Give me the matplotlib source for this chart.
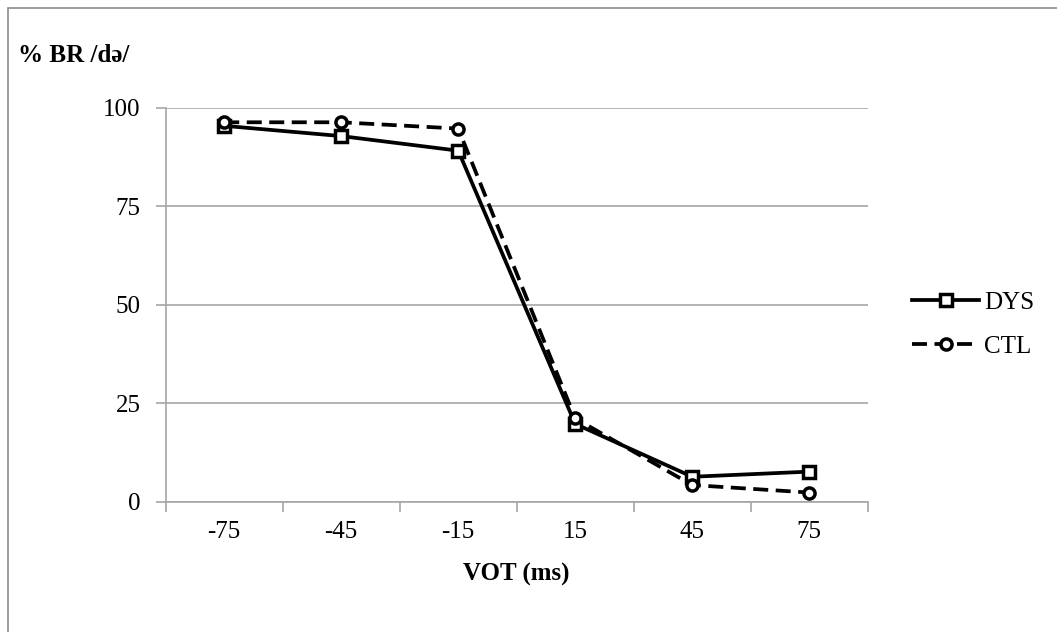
import numpy as np
import matplotlib
matplotlib.use("Agg")
import matplotlib.pyplot as plt
from matplotlib.patches import Rectangle

# ---------------- data ----------------
vot_labels = ["-75", "-45", "-15", "15", "45", "75"]
dys_vals = [95.4, 92.8, 89.1, 19.8, 6.4, 7.7]
ctl_vals = [96.3, 96.3, 94.7, 21.2, 4.3, 2.4]
y_ticks = [0, 25, 50, 75, 100]

serif = ["Liberation Serif", "DejaVu Serif"]
plt.rcParams["font.family"] = serif
grid_col = "#a6a6a6"

fig = plt.figure(figsize=(10.57, 6.32), dpi=100)
ax = fig.add_axes([0.1568, 0.2057, 0.6641, 0.6239])

x = np.arange(len(vot_labels))
ax.plot(x, dys_vals, color="black", lw=2.7, marker="s", ms=9,
        mfc="white", mec="black", mew=2.5, label="DYS", solid_joinstyle="miter")
ax.plot(x, ctl_vals, color="black", lw=2.7, marker="o", ms=8,
        mfc="white", mec="black", mew=2.5, label="CTL", dashes=(4, 2))

ax.set_xlim(-0.5, len(vot_labels) - 0.5)
ax.set_ylim(0, 100)
ax.set_yticks(y_ticks)
ax.set_yticklabels([str(v) for v in y_ticks], fontsize=18)
ax.yaxis.grid(True, color=grid_col, lw=1.2)
ax.set_axisbelow(True)

# category labels at centres, tick marks at the boundaries
ax.set_xticks(x)
ax.set_xticklabels(vot_labels, fontsize=18)
ax.set_xticks(np.arange(-0.5, len(vot_labels)), minor=True)
ax.tick_params(axis="x", which="major", length=0, pad=14)
ax.tick_params(axis="x", which="minor", length=7, width=1.2, color=grid_col)
ax.tick_params(axis="y", length=7, width=1.2, color=grid_col, pad=11)

for s in ["top", "right"]:
    ax.spines[s].set_visible(False)
for s in ["left", "bottom"]:
    ax.spines[s].set_color(grid_col)
    ax.spines[s].set_linewidth(1.2)

ax.set_xlabel("VOT (ms)", fontsize=18, fontweight="bold", labelpad=14)
fig.text(18 / 1057, 1 - 55 / 632, "% BR /də/", fontsize=18, fontweight="bold",
         ha="left", va="center")

leg = ax.legend(loc="center left", bbox_to_anchor=(1.063, 0.45), frameon=False,
                fontsize=18, handlelength=2.7, handletextpad=0.2, labelspacing=0.85,
                borderaxespad=0, borderpad=0)

# chart border (Excel style)
fig.patches.append(Rectangle((8 / 1057, -0.1), 1.2, 1 - 8 / 632 + 0.1,
                             transform=fig.transFigure, fill=False,
                             edgecolor="#8c8c8c", lw=1.2))

fig.savefig("out.png", dpi=100)
